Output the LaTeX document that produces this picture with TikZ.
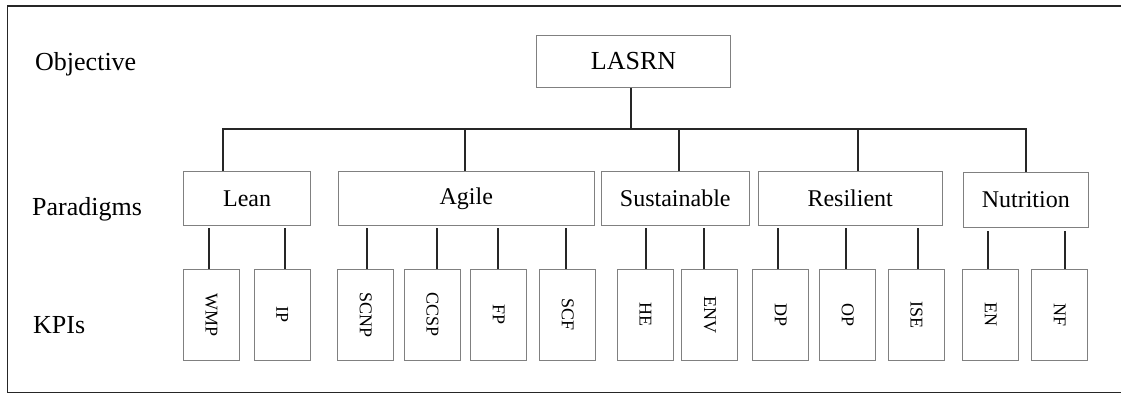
\documentclass[tikz,border=0pt]{standalone}
\usepackage{fontspec}
\usepackage{graphicx}
\setmainfont{Liberation Serif}
\usetikzlibrary{calc}
\begin{document}
\begin{tikzpicture}[x=1pt,y=-1pt,
  boxline/.style={draw=black!50, line width=0.9pt},
  objbox/.style={boxline, minimum width=193.6pt, minimum height=52pt, inner sep=0pt,
    font=\fontsize{26}{30}\selectfont},
  parbox/.style={boxline, minimum height=53.3pt, inner sep=0pt,
    font=\fontsize{24}{28}\selectfont},
  kpibox/.style={boxline, minimum width=56pt, minimum height=90.7pt, inner sep=0pt,
    font=\fontsize{18}{20}\selectfont},
  rowlabel/.style={anchor=base west, inner sep=0pt, font=\fontsize{26}{30}\selectfont},
  link/.style={draw=black!85, line width=2pt},
  frame/.style={draw=black!85, line width=1.5pt}]

\useasboundingbox (0,0) rectangle (1121,394);

% open frame: left, top and bottom edges
\draw[frame] (1121,6) -- (7.5,6) -- (7.5,392.5) -- (1121,392.5);

% row titles
\node[rowlabel] (lobj) at (35,70) {Objective};
\node[rowlabel] (lpar) at (32,215) {Paradigms};
\node[rowlabel] (lkpi) at (33,333) {KPIs};

% objective
\node[objbox] (lasrn) at (633.5,61.3) {LASRN};

% paradigms
\node[parbox, minimum width=127.2pt] (lean) at (247.1,198.3) {Lean};
\node[parbox, minimum width=256pt]   (agile) at (466.3,198.3) {Agile};
\node[parbox, minimum width=148pt]   (sust) at (675.3,198.3) {Sustainable};
\node[parbox, minimum width=184.3pt] (resil) at (850.2,198.3) {Resilient};
\node[parbox, minimum width=125pt, minimum height=55pt] (nutr) at (1025.8,199.8) {Nutrition};

% tree from the objective to the paradigms
\coordinate (bus) at (631,128.7);
\draw[link] (bus |- lasrn.south) -- (bus);
\draw[link] ([xshift=-24.4pt]lean.north) |- (bus);
\draw[link] ([xshift=-1.3pt]agile.north) |- (bus);
\draw[link] ([xshift=3.4pt]sust.north) |- (bus);
\draw[link] ([xshift=7.5pt]resil.north) |- (bus);
\draw[link] (nutr.north) |- (bus);

% KPIs under each paradigm: name/centre/link offset/text/parent
\foreach \n/\c/\o/\t/\p in {
  wmp/211.5/-2.5/WMP/lean, ip/282.3/2.4/IP/lean,
  scnp/365.8/1.2/SCNP/agile, ccsp/432.5/4.2/CCSP/agile,
  fp/498.8/-1.1/FP/agile, scf/567.7/-1.7/SCF/agile,
  he/645.5/0.5/HE/sust, env/709.8/-6.1/ENV/sust,
  dp/780.8/-3.1/DP/resil, op/847.8/-1.8/OP/resil, ise/916.5/1.2/ISE/resil,
  en/990.8/-3.1/EN/nutr, nf/1059.8/4.9/NF/nutr} {
  \node[kpibox] (\n) at (\c,314.7) {\rotatebox{-90}{\t}};
  \draw[link, shorten >=3pt] ([xshift=\o pt]\n.north) -- ([xshift=\o pt]\n.north |- \p.south);
}
\end{tikzpicture}
\end{document}
